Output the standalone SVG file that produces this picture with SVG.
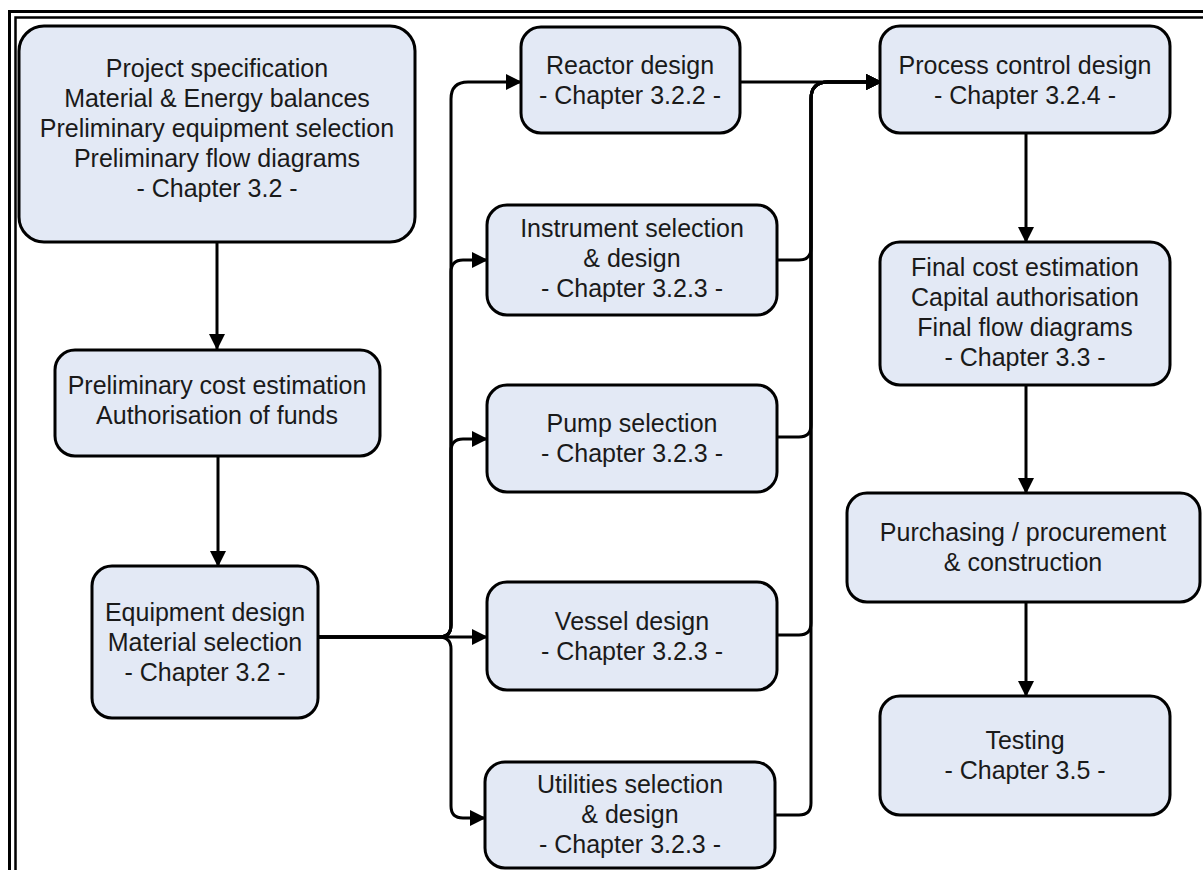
<svg xmlns="http://www.w3.org/2000/svg" width="1203" height="870" viewBox="0 0 1203 870">
<defs>
<marker id="arr" viewBox="0 0 16 16" markerWidth="16" markerHeight="16" refX="15" refY="8" orient="auto" markerUnits="userSpaceOnUse">
<path d="M0,0 L16,8 L0,16 z" fill="#000"/>
</marker>
<style>
.box{fill:#E3E9F5;stroke:#000;stroke-width:3}
.t{font-family:"Liberation Sans",Arial,sans-serif;font-size:25px;fill:#1a1a1a;text-anchor:middle}
.c{fill:none;stroke:#000;stroke-width:3}
.a{marker-end:url(#arr)}
.frame{fill:none;stroke:#000}
</style>
</defs>
<rect width="1203" height="870" fill="#fff"/>
<rect class="frame" x="9.5" y="11.5" width="1400" height="1000" stroke-width="3"/>
<rect class="frame" x="15.5" y="17.5" width="1400" height="1000" stroke-width="2.5"/>

<g id="connectors">
<path class="c a" d="M217,242 V349"/>
<path class="c a" d="M218,456 V566"/>
<path class="c a" d="M1026,133 V242"/>
<path class="c a" d="M1026,385 V493"/>
<path class="c a" d="M1026,602 V696"/>
<path class="c a" d="M318,637 H439 Q451,637 451,625 V99 Q451,82 468,82 H521"/>
<path class="c a" d="M318,637 H439 Q451,637 451,625 V272 Q451,260 463,260 H487"/>
<path class="c a" d="M318,637 H439 Q451,637 451,625 V451 Q451,439 463,439 H487"/>
<path class="c a" d="M318,637 H487"/>
<path class="c a" d="M318,637 H439 Q451,637 451,649 V806 Q451,818 463,818 H485"/>
<path class="c a" d="M740,82 H881"/>
<path class="c a" d="M777,260 H799 Q811,260 811,248 V99 Q811,82 828,82 H881"/>
<path class="c a" d="M777,437 H799 Q811,437 811,425 V99 Q811,82 828,82 H881"/>
<path class="c a" d="M777,635 H799 Q811,635 811,623 V99 Q811,82 828,82 H881"/>
<path class="c a" d="M775,815 H799 Q811,815 811,803 V99 Q811,82 828,82 H881"/>
</g>

<g id="n1"><rect class="box" x="19" y="26" width="396" height="216" rx="25"/>
<text class="t" x="217" y="77">Project specification</text>
<text class="t" x="217" y="107">Material &amp; Energy balances</text>
<text class="t" x="217" y="137">Preliminary equipment selection</text>
<text class="t" x="217" y="167">Preliminary flow diagrams</text>
<text class="t" x="217" y="197">- Chapter 3.2 -</text></g>

<g id="n2"><rect class="box" x="55" y="350" width="325" height="106" rx="20"/>
<text class="t" x="217" y="394">Preliminary cost estimation</text>
<text class="t" x="217" y="424">Authorisation of funds</text></g>

<g id="n3"><rect class="box" x="92" y="566" width="226" height="152" rx="20"/>
<text class="t" x="205" y="621">Equipment design</text>
<text class="t" x="205" y="651">Material selection</text>
<text class="t" x="205" y="681">- Chapter 3.2 -</text></g>

<g id="n4"><rect class="box" x="521" y="27" width="219" height="106" rx="20"/>
<text class="t" x="630" y="74">Reactor design</text>
<text class="t" x="630" y="104">- Chapter 3.2.2 -</text></g>

<g id="n5"><rect class="box" x="487" y="205" width="290" height="110" rx="20"/>
<text class="t" x="632" y="237">Instrument selection</text>
<text class="t" x="632" y="267">&amp; design</text>
<text class="t" x="632" y="297">- Chapter 3.2.3 -</text></g>

<g id="n6"><rect class="box" x="487" y="385" width="290" height="107" rx="20"/>
<text class="t" x="632" y="432">Pump selection</text>
<text class="t" x="632" y="462">- Chapter 3.2.3 -</text></g>

<g id="n7"><rect class="box" x="487" y="582" width="290" height="108" rx="20"/>
<text class="t" x="632" y="630">Vessel design</text>
<text class="t" x="632" y="660">- Chapter 3.2.3 -</text></g>

<g id="n8"><rect class="box" x="485" y="762" width="290" height="106" rx="20"/>
<text class="t" x="630" y="793">Utilities selection</text>
<text class="t" x="630" y="823">&amp; design</text>
<text class="t" x="630" y="853">- Chapter 3.2.3 -</text></g>

<g id="n9"><rect class="box" x="880" y="26" width="290" height="107" rx="20"/>
<text class="t" x="1025" y="74">Process control design</text>
<text class="t" x="1025" y="104">- Chapter 3.2.4 -</text></g>

<g id="n10"><rect class="box" x="880" y="242" width="290" height="143" rx="20"/>
<text class="t" x="1025" y="276">Final cost estimation</text>
<text class="t" x="1025" y="306">Capital authorisation</text>
<text class="t" x="1025" y="336">Final flow diagrams</text>
<text class="t" x="1025" y="366">- Chapter 3.3 -</text></g>

<g id="n11"><rect class="box" x="847" y="493" width="353" height="109" rx="20"/>
<text class="t" x="1023" y="541">Purchasing / procurement</text>
<text class="t" x="1023" y="571">&amp; construction</text></g>

<g id="n12"><rect class="box" x="880" y="696" width="290" height="119" rx="20"/>
<text class="t" x="1025" y="749">Testing</text>
<text class="t" x="1025" y="779">- Chapter 3.5 -</text></g>
</svg>
